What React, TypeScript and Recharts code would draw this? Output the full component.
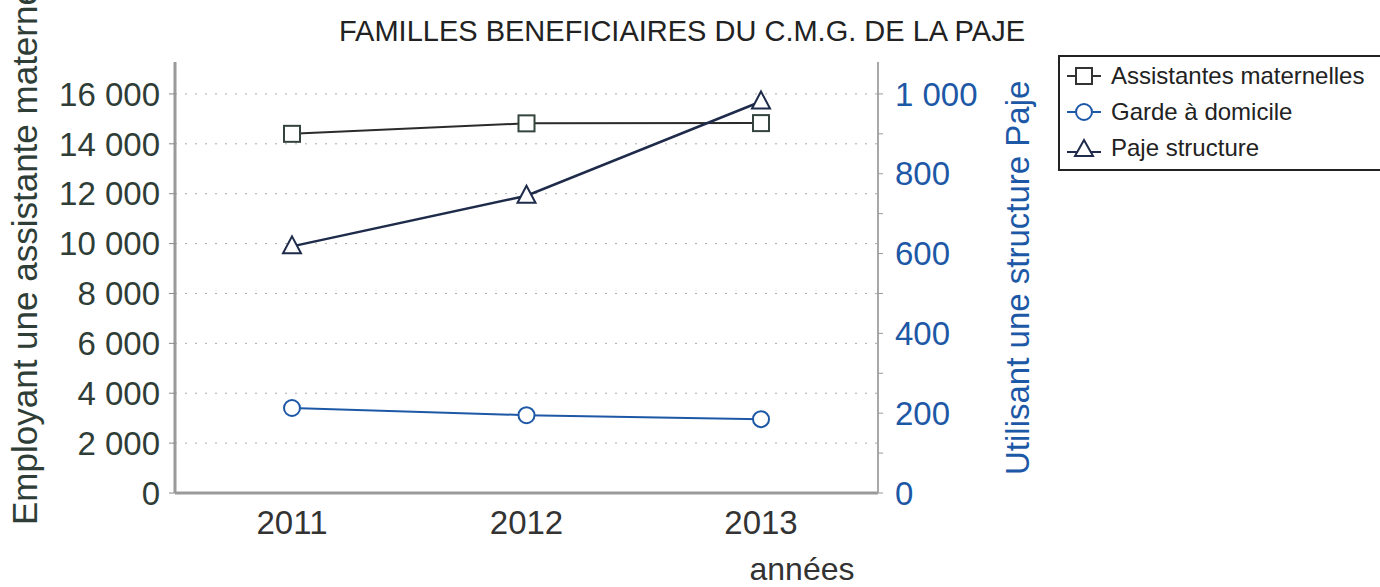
import React from 'react';
import { LineChart, Line, XAxis, YAxis, CartesianGrid, Legend } from 'recharts';

const FONT = '"Liberation Sans", Arial, sans-serif';

// valeurs
const annees = ['2011', '2012', '2013'];
const assistantesMaternelles = [14400, 14820, 14830];
const gardeADomicile = [213, 195, 185];
const pajeStructure = [618, 745, 981];

const ticksGauche = [0, 2000, 4000, 6000, 8000, 10000, 12000, 14000, 16000];
const ticksDroite = [0, 100, 200, 300, 400, 500, 600, 700, 800, 900, 1000];
const MAX_GAUCHE = 17280;
const MAX_DROITE = 1080;

const seriesNames = ['Assistantes maternelles', 'Garde à domicile', 'Paje structure'];

const data = annees.map((annee, i) => ({
  annee,
  assistantes: assistantesMaternelles[i],
  garde: gardeADomicile[i],
  paje: pajeStructure[i],
}));

const GREEN_GREY = '#2f3d37';
const BLUE = '#1d58a6';
const NAVY = '#1e2b4a';

// séparateur de milliers avec espace : 16000 -> "16 000"
const fmt = (v: number) => String(v).replace(/\B(?=(\d{3})+(?!\d))/g, ' ');

const SquareDot = (p: any) => (
  <rect key={`sq-${p.index}`} x={p.cx - 8} y={p.cy - 8} width={16} height={16} fill="#fff" stroke="#34443c" strokeWidth={2} />
);
const CircleDot = (p: any) => (
  <circle key={`ci-${p.index}`} cx={p.cx} cy={p.cy} r={8} fill="#fff" stroke={BLUE} strokeWidth={2} />
);
const TriangleDot = (p: any) => (
  <path key={`tr-${p.index}`} d={`M${p.cx},${p.cy - 10} L${p.cx + 9},${p.cy + 7} L${p.cx - 9},${p.cy + 7} Z`} fill="#fff" stroke={NAVY} strokeWidth={2} />
);

function LegendIcon({ kind }: { kind: string }) {
  return (
    <svg width={38} height={22} style={{ marginRight: 8 }}>
      {kind === 'assistantes' && (
        <>
          <line x1={2} x2={36} y1={11} y2={11} stroke="#333" strokeWidth={2} />
          <rect x={11} y={3} width={16} height={16} fill="#fff" stroke="#333" strokeWidth={2} />
        </>
      )}
      {kind === 'garde' && (
        <>
          <line x1={2} x2={36} y1={11} y2={11} stroke={BLUE} strokeWidth={2} />
          <circle cx={19} cy={11} r={8} fill="#fff" stroke={BLUE} strokeWidth={2} />
        </>
      )}
      {kind === 'paje' && (
        <>
          <line x1={2} x2={36} y1={15} y2={15} stroke={NAVY} strokeWidth={2} />
          <path d="M19,3 L28,19 L10,19 Z" fill="#fff" stroke={NAVY} strokeWidth={2} />
        </>
      )}
    </svg>
  );
}

const renderLegend = (props: any) => (
  <div style={{ border: '2px solid #222', background: '#fff', padding: '1px 0 3px 5px', width: 340 }}>
    {(props.payload || []).map((entry: any) => (
      <div key={entry.dataKey} style={{ display: 'flex', alignItems: 'center', height: 36, fontFamily: FONT, fontSize: 24, color: '#222', whiteSpace: 'nowrap' }}>
        <LegendIcon kind={entry.dataKey} />
        {entry.value}
      </div>
    ))}
  </div>
);

// lignes de grille pointillées aux graduations de l'axe gauche (sauf 0)
const gridRows = (props: any) => {
  const top = props.offset?.top ?? 62;
  const h = props.offset?.height ?? 431;
  return ticksGauche.filter((t) => t > 0).map((t) => top + h * (1 - t / MAX_GAUCHE));
};

export default function App() {
  return (
    <div style={{ position: 'absolute', left: 0, top: 0, width: 1380, height: 587, overflow: 'hidden', background: '#fff' }}>
      <div style={{ position: 'absolute', left: 682, top: 17, transform: 'translateX(-50%)', whiteSpace: 'nowrap', fontFamily: FONT, fontSize: 29, lineHeight: '29px', color: '#222' }}>
        FAMILLES BENEFICIAIRES DU C.M.G. DE LA PAJE
      </div>
      <LineChart width={1380} height={587} data={data} margin={{ top: 62, right: 342, left: 0, bottom: 0 }}>
        <CartesianGrid yAxisId="left" vertical={false} stroke="#aaa" strokeDasharray="2 8" horizontalCoordinatesGenerator={gridRows} />
        <XAxis
          dataKey="annee"
          height={94}
          padding={{ left: 117, right: 117 }}
          tickLine={false}
          tickSize={0}
          tickMargin={18}
          axisLine={{ stroke: '#9a9a9a', strokeWidth: 3 }}
          tick={{ fill: '#333', fontSize: 33, fontFamily: FONT }}
          label={{
            value: 'années',
            content: () => (
              <text x={802} y={580} textAnchor="middle" fontSize={32} fontFamily={FONT} fill="#333">années</text>
            ),
          }}
        />
        <YAxis
          yAxisId="left"
          width={175}
          domain={[0, MAX_GAUCHE]}
          ticks={ticksGauche}
          tickFormatter={fmt}
          tickSize={6}
          tickMargin={9}
          tickLine={{ stroke: '#888' }}
          axisLine={{ stroke: '#9a9a9a', strokeWidth: 3 }}
          tick={{ fill: GREEN_GREY, fontSize: 33, fontFamily: FONT }}
          label={{
            value: 'Employant une assistante maternelle',
            content: () => (
              <text x={37} y={525} transform="rotate(-90 37 525)" fontSize={35} fontFamily={FONT} fill={GREEN_GREY}>
                Employant une assistante maternelle
              </text>
            ),
          }}
        />
        <YAxis
          yAxisId="right"
          orientation="right"
          width={160}
          domain={[0, MAX_DROITE]}
          ticks={ticksDroite}
          tickFormatter={(v: number) => (v % 200 === 0 ? fmt(v) : '')}
          tickSize={5}
          tickMargin={12}
          tickLine={{ stroke: '#999' }}
          axisLine={{ stroke: '#a8a8a8', strokeWidth: 2 }}
          tick={{ fill: BLUE, fontSize: 33, fontFamily: FONT }}
          label={{
            value: 'Utilisant une structure Paje',
            content: () => (
              <text x={1029} y={475} transform="rotate(-90 1029 475)" fontSize={33} fontFamily={FONT} fill={BLUE}>
                Utilisant une structure Paje
              </text>
            ),
          }}
        />
        <Legend
          layout="horizontal"
          verticalAlign="middle"
          align="center"
          content={renderLegend}
          wrapperStyle={{ left: 1058, top: 55, width: 340, height: 120 }}
        />
        <Line yAxisId="left" dataKey="assistantes" name={seriesNames[0]} stroke="#2b2b2b" strokeWidth={2} dot={SquareDot} isAnimationActive={false} />
        <Line yAxisId="right" dataKey="garde" name={seriesNames[1]} stroke={BLUE} strokeWidth={2} dot={CircleDot} isAnimationActive={false} />
        <Line yAxisId="right" dataKey="paje" name={seriesNames[2]} stroke={NAVY} strokeWidth={2.5} dot={TriangleDot} isAnimationActive={false} />
      </LineChart>
    </div>
  );
}
